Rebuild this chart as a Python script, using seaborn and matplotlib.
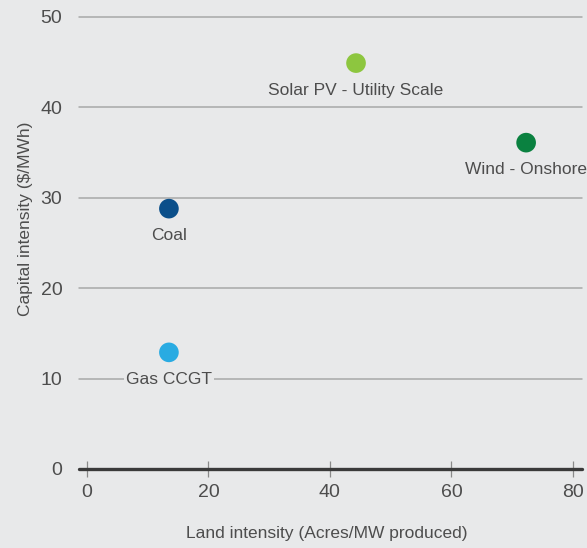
import numpy as np
import pandas as pd
import matplotlib
matplotlib.use('Agg')
import matplotlib.pyplot as plt
import seaborn as sns

# Values
technologies = ['Coal', 'Gas CCGT', 'Solar PV - Utility Scale', 'Wind - Onshore']
land_intensity = [13.5, 13.5, 44.3, 72.3]
capital_intensity = [28.8, 12.9, 44.9, 36.1]
point_colors = ['#0b4f8a', '#29abe2', '#8dc63f', '#0a8140']
x_ticks = [0, 20, 40, 60, 80]
y_ticks = [0, 10, 20, 30, 40, 50]

df = pd.DataFrame({
    'Technology': technologies,
    'Land': land_intensity,
    'Capital': capital_intensity,
})

bg = '#e8e9ea'
text_col = '#4d4d4d'
fs = 12.5

sns.set_theme(style='white')
plt.rcParams['font.family'] = ['Liberation Sans', 'DejaVu Sans']

fig = plt.figure(figsize=(5.87, 5.48), dpi=100, facecolor=bg)
ax = fig.add_axes([0.1346, 0.1442, 0.8569, 0.8248])
ax.set_facecolor(bg)

sns.scatterplot(data=df, x='Land', y='Capital', hue='Technology',
                palette=dict(zip(technologies, point_colors)),
                s=200, edgecolor='none', legend=False, ax=ax, zorder=5)

# labels sit under each point, with a background that breaks the gridlines
for name, x, y in zip(technologies, land_intensity, capital_intensity):
    ax.annotate(name, (x, y), xytext=(0, -14), textcoords='offset points',
                ha='center', va='top', fontsize=fs, color=text_col, zorder=4,
                annotation_clip=False,
                bbox=dict(boxstyle='square,pad=0.1', fc=bg, ec='none'))

ax.set_xlim(-1.3, 81.5)
ax.set_ylim(0, 50)
ax.set_xticks(x_ticks)
ax.set_yticks(y_ticks)

for yv in y_ticks[1:]:
    ax.axhline(yv, color='#a8a8a8', lw=1.1, zorder=1, clip_on=False)
ax.axhline(0, color='#3a3a3a', lw=2.4, zorder=3, clip_on=False)

for side in ['top', 'right', 'left', 'bottom']:
    ax.spines[side].set_visible(False)

ax.tick_params(axis='x', bottom=True, direction='inout', length=12, width=0.9,
               color='#8a8a8a', labelsize=14, labelcolor=text_col, pad=5)
ax.tick_params(axis='y', left=False, labelsize=14, labelcolor=text_col, pad=6)

ax.set_xlabel('Land intensity (Acres/MW produced)', fontsize=fs, color=text_col)
ax.set_ylabel('Capital intensity ($/MWh)', fontsize=fs, color=text_col)
ax.xaxis.set_label_coords(0.493, -0.142)
ax.xaxis.label.set_va('center')
ax.yaxis.set_label_coords(-0.107, 0.553)
ax.yaxis.label.set_va('center')

fig.savefig('out.png', dpi=100, facecolor=bg)
